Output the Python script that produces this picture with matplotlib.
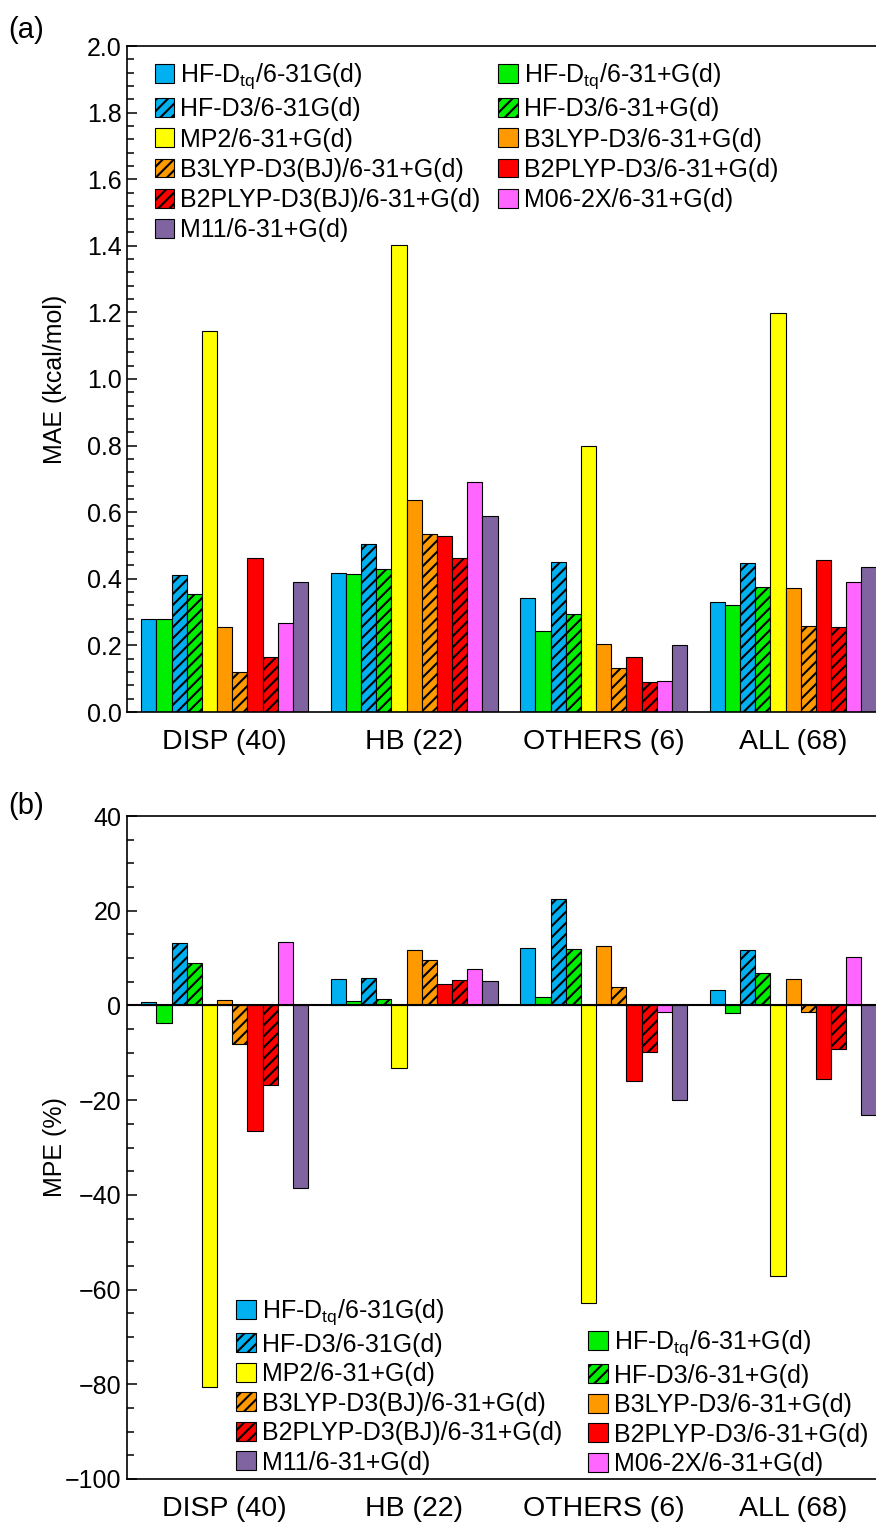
import matplotlib
matplotlib.use("Agg")
import matplotlib.pyplot as plt
from matplotlib.patches import Patch
from matplotlib.ticker import MultipleLocator, FormatStrFormatter
import numpy as np

plt.rcParams['font.family'] = ['Liberation Sans', 'DejaVu Sans']
plt.rcParams['mathtext.fontset'] = 'custom'
plt.rcParams['mathtext.rm'] = 'Liberation Sans'
plt.rcParams['mathtext.it'] = 'Liberation Sans:italic'
plt.rcParams['hatch.linewidth'] = 1.5
plt.rcParams['hatch.color'] = 'black'

categories = ['DISP (40)', 'HB (22)', 'OTHERS (6)', 'ALL (68)']

methods = ['HF-D$_{\\mathrm{tq}}$/6-31G(d)', 'HF-D$_{\\mathrm{tq}}$/6-31+G(d)',
           'HF-D3/6-31G(d)', 'HF-D3/6-31+G(d)', 'MP2/6-31+G(d)',
           'B3LYP-D3/6-31+G(d)', 'B3LYP-D3(BJ)/6-31+G(d)',
           'B2PLYP-D3/6-31+G(d)', 'B2PLYP-D3(BJ)/6-31+G(d)',
           'M06-2X/6-31+G(d)', 'M11/6-31+G(d)']
colors = ['#00B0F0', '#00EE00', '#00B0F0', '#00EE00', '#FFFF00',
          '#FF9900', '#FF9900', '#FF0000', '#FF0000', '#FF66FF', '#8064A2']
hatches = ['', '', '///', '///', '', '', '///', '', '///', '', '']

# MAE (kcal/mol), per method, across categories
mae = {
    'HF-Dtq/6-31G(d)':          [0.278, 0.416, 0.341, 0.329],
    'HF-Dtq/6-31+G(d)':         [0.280, 0.414, 0.244, 0.320],
    'HF-D3/6-31G(d)':           [0.411, 0.505, 0.449, 0.447],
    'HF-D3/6-31+G(d)':          [0.355, 0.428, 0.294, 0.374],
    'MP2/6-31+G(d)':            [1.145, 1.402, 0.799, 1.198],
    'B3LYP-D3/6-31+G(d)':       [0.254, 0.636, 0.205, 0.372],
    'B3LYP-D3(BJ)/6-31+G(d)':   [0.119, 0.535, 0.132, 0.257],
    'B2PLYP-D3/6-31+G(d)':      [0.462, 0.529, 0.164, 0.457],
    'B2PLYP-D3(BJ)/6-31+G(d)':  [0.164, 0.462, 0.090, 0.254],
    'M06-2X/6-31+G(d)':         [0.268, 0.690, 0.094, 0.389],
    'M11/6-31+G(d)':            [0.389, 0.588, 0.201, 0.436],
}
# MPE (%)
mpe = {
    'HF-Dtq/6-31G(d)':          [0.7, 5.5, 12.2, 3.2],
    'HF-Dtq/6-31+G(d)':         [-3.7, 1.0, 1.7, -1.6],
    'HF-D3/6-31G(d)':           [13.2, 5.8, 22.4, 11.7],
    'HF-D3/6-31+G(d)':          [9.0, 1.4, 12.0, 6.9],
    'MP2/6-31+G(d)':            [-80.5, -13.3, -62.9, -57.2],
    'B3LYP-D3/6-31+G(d)':       [1.2, 11.6, 12.5, 5.5],
    'B3LYP-D3(BJ)/6-31+G(d)':   [-8.1, 9.6, 3.9, -1.3],
    'B2PLYP-D3/6-31+G(d)':      [-26.6, 4.6, -16.0, -15.6],
    'B2PLYP-D3(BJ)/6-31+G(d)':  [-16.7, 5.3, -9.9, -9.3],
    'M06-2X/6-31+G(d)':         [13.4, 7.6, -1.3, 10.3],
    'M11/6-31+G(d)':            [-38.6, 5.1, -20.0, -23.2],
}
keys = list(mae.keys())

W, H = 876, 1524
fig = plt.figure(figsize=(W / 100, H / 100), dpi=100)

def ax_rect(left, top, right, bottom):
    return [left / W, 1 - bottom / H, (right - left) / W, (bottom - top) / H]

axA = fig.add_axes(ax_rect(127, 46, 877, 712))
axB = fig.add_axes(ax_rect(127, 816, 877, 1479))

x = np.arange(len(categories))
bw = 0.08
n = len(keys)

def draw(ax, data):
    handles = []
    for i, k in enumerate(keys):
        off = (i - (n - 1) / 2) * bw
        ax.bar(x + off, data[k], width=bw, color=colors[i], hatch=hatches[i],
               edgecolor='black', linewidth=0.8, zorder=2)
        handles.append(Patch(facecolor=colors[i], hatch=hatches[i], edgecolor='black',
                             linewidth=0.8, label=methods[i]))
    ax.set_xlim(-0.515, 3.442)
    ax.set_xticks(x)
    ax.set_xticklabels(categories, fontsize=20.5)
    ax.tick_params(axis='x', length=0, pad=12)
    ax.tick_params(axis='y', which='both', direction='in', labelsize=18, pad=4)
    ax.tick_params(axis='y', which='major', length=7, width=1.1)
    ax.tick_params(axis='y', which='minor', length=5, width=1.1)
    ax.spines['right'].set_visible(False)
    for s in ['top', 'left', 'bottom']:
        ax.spines[s].set_linewidth(1.2)
    return handles

hA = draw(axA, mae)
axA.set_ylim(0, 2.0)
axA.yaxis.set_major_locator(MultipleLocator(0.2))
axA.yaxis.set_minor_locator(MultipleLocator(0.04))
axA.yaxis.set_major_formatter(FormatStrFormatter('%.1f'))
axA.set_ylabel('MAE (kcal/mol)', fontsize=18)
axA.yaxis.set_label_coords(-0.096, 0.5)
axA.yaxis.label.set_va('center')

# legend (a): column 1 / column 2 order
orderA = [0, 2, 4, 6, 8, 10, 1, 3, 5, 7, 9]
axA.legend([hA[i] for i in orderA], [methods[i] for i in orderA], ncol=2,
           loc='upper left', bbox_to_anchor=(0.037, 0.977), frameon=False,
           fontsize=18, handlelength=0.78, handleheight=0.78, handletextpad=0.25,
           columnspacing=0.7, labelspacing=0.25, borderpad=0, borderaxespad=0)

hB = draw(axB, mpe)
axB.axhline(0, color='black', linewidth=1.5, zorder=3)
axB.set_ylim(-100, 40)
axB.yaxis.set_major_locator(MultipleLocator(20))
axB.yaxis.set_minor_locator(MultipleLocator(5))
axB.set_ylabel('MPE (%)', fontsize=18)
axB.yaxis.set_label_coords(-0.096, 0.5)
axB.yaxis.label.set_va('center')

blank = Patch(facecolor='none', edgecolor='none', label='')
orderB = [0, 2, 4, 6, 8, 10, None, 1, 3, 5, 7, 9]
hl = [hB[i] if i is not None else blank for i in orderB]
ll = [methods[i] if i is not None else '' for i in orderB]
axB.legend(hl, ll, ncol=2, loc='upper left', bbox_to_anchor=(0.1455, 0.274),
           frameon=False, fontsize=18, handlelength=0.78, handleheight=0.78,
           handletextpad=0.25, columnspacing=1.05, labelspacing=0.22,
           borderpad=0, borderaxespad=0)

fig.text(8 / W, 1 - 30 / H, '(a)', fontsize=21, va='center', ha='left')
fig.text(8 / W, 1 - 806 / H, '(b)', fontsize=21, va='center', ha='left')

fig.savefig('out.png', dpi=100)
